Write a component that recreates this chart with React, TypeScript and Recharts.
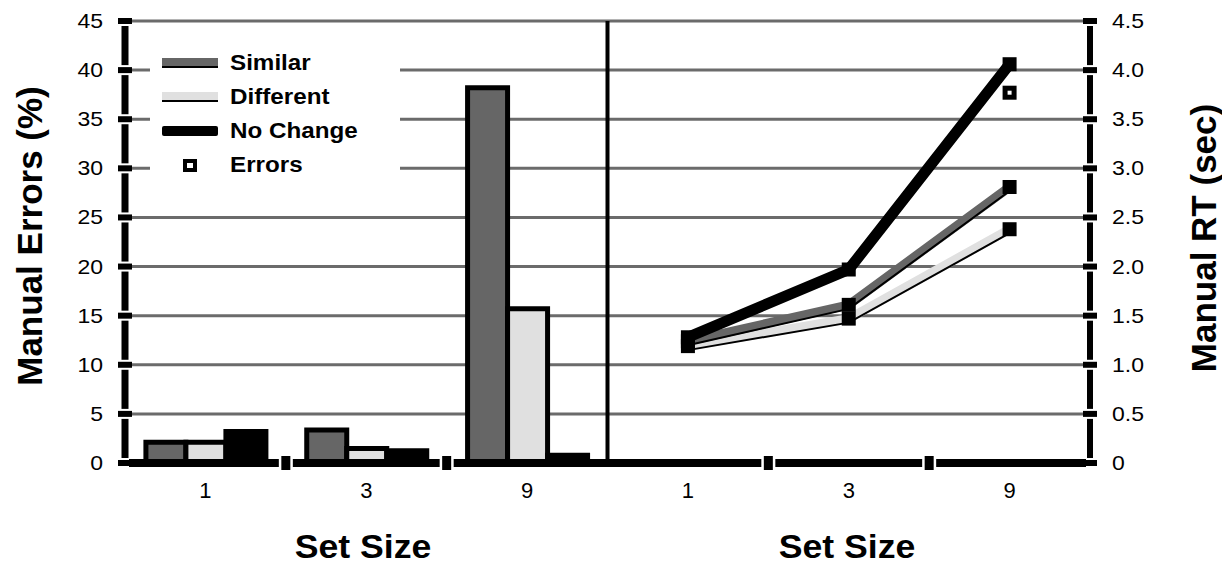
import { ComposedChart, Bar, Line, XAxis, YAxis, CartesianGrid, ReferenceLine, Legend } from 'recharts';

const SET_SIZES = ['1', '3', '9'];

// manual errors (%), left panel bars
const ERR_SIMILAR = [2.1, 3.35, 38.2];
const ERR_DIFFERENT = [2.1, 1.48, 15.7];
const ERR_NO_CHANGE = [3.2, 1.24, 0.8];

// manual RT (sec), right panel lines
const RT_SIMILAR = [1.24, 1.61, 2.81];
const RT_DIFFERENT = [1.19, 1.47, 2.38];
const RT_NO_CHANGE = [1.28, 1.97, 4.06];
const RT_ERRORS = [null, null, 3.77];

const ERR_TICKS = [0, 5, 10, 15, 20, 25, 30, 35, 40, 45];
const RT_TICKS = [0, 0.5, 1, 1.5, 2, 2.5, 3, 3.5, 4, 4.5];

const FONT = '"Liberation Sans", Arial, Helvetica, sans-serif';
const GRID = '#6b6b6b';
const DARK = '#666666';
const LIGHT = '#e0e0e0';

const data = [
  ...SET_SIZES.map((s, i) => ({
    key: 'e' + s,
    similar: ERR_SIMILAR[i],
    different: ERR_DIFFERENT[i],
    noChange: ERR_NO_CHANGE[i],
  })),
  ...SET_SIZES.map((s, i) => ({
    key: 'r' + s,
    rtSimilar: RT_SIMILAR[i],
    rtDifferent: RT_DIFFERENT[i],
    rtNoChange: RT_NO_CHANGE[i],
    rtErrors: RT_ERRORS[i],
  })),
];

function LeftTick(props: any) {
  const { x, y, payload } = props;
  return (
    <g>
      <rect x={x - 4} y={y - 5} width={8} height={10} fill="#fff" />
      <rect x={x - 7} y={y - 3} width={14} height={6} fill="#000" />
      <text transform={`translate(${x - 22},${y}) scale(1.15,1)`} textAnchor="end" dominantBaseline="central"
        fontSize={20} fontFamily={FONT} fill="#000">{payload.value}</text>
    </g>
  );
}

function RightTick(props: any) {
  const { x, y, payload } = props;
  const label = payload.value === 0 ? '0' : Number(payload.value).toFixed(1);
  return (
    <g>
      <rect x={x - 4} y={y - 5} width={8} height={10} fill="#fff" />
      <rect x={x - 7} y={y - 3} width={14} height={6} fill="#000" />
      <text transform={`translate(${x + 22},${y}) scale(1.15,1)`} textAnchor="start" dominantBaseline="central"
        fontSize={20} fontFamily={FONT} fill="#000">{label}</text>
    </g>
  );
}

// category label plus the little block at the right edge of each band
function CatTick(props: any) {
  const { x, y, payload, index } = props;
  const half = payload.offset ?? 0;
  const edge = x + half;
  const showBox = index !== 2 && index !== 5;
  return (
    <g>
      {showBox && <rect x={edge - 7} y={y - 5} width={14} height={10} fill="#fff" />}
      {showBox && <rect x={edge - 4.5} y={y - 7} width={9} height={14} fill="#000" />}
      <text x={x} y={y + 35} textAnchor="middle" fontSize={22} fontFamily={FONT} fill="#000">
        {String(payload.value).slice(1)}
      </text>
    </g>
  );
}

function squareDot(props: any) {
  const { cx, cy, index } = props;
  if (cx == null || cy == null) return <g key={index} />;
  return <rect key={index} x={cx - 7} y={cy - 7} width={14} height={14} fill="#000" />;
}

function hollowDot(props: any) {
  const { cx, cy, index } = props;
  if (cx == null || cy == null) return <g key={index} />;
  return (
    <g key={index}>
      <rect x={cx - 7} y={cy - 7} width={14} height={14} fill="#000" />
      <rect x={cx - 2} y={cy - 2} width={4} height={4} fill="#fff" />
    </g>
  );
}

function LegendBox() {
  const row = (top: number, swatch: any, label: string) => (
    <div style={{ position: 'absolute', left: 0, top, height: 34, width: 250 }}>
      <div style={{ position: 'absolute', left: 12, top: 0, width: 56, height: 34, display: 'flex', alignItems: 'center', justifyContent: 'center' }}>
        {swatch}
      </div>
      <div style={{
        position: 'absolute', left: 80, top: 0, lineHeight: '34px', fontSize: 22, fontWeight: 700,
        fontFamily: FONT, color: '#000', transform: 'scaleX(1.1)', transformOrigin: 'left center', whiteSpace: 'nowrap',
      }}>{label}</div>
    </div>
  );
  return (
    <div style={{ position: 'relative', width: 250, height: 150, background: '#fff' }}>
      {row(8, <div style={{ width: 56, height: 8, background: DARK, borderBottom: '2px solid #000' }} />, 'Similar')}
      {row(42, <div style={{ width: 56, height: 8, background: LIGHT, borderBottom: '2px solid #000' }} />, 'Different')}
      {row(76, <div style={{ width: 56, height: 10, background: '#000', borderRadius: 2 }} />, 'No Change')}
      {row(110, <div style={{ width: 6, height: 5, border: '4px solid #000', background: '#fff' }} />, 'Errors')}
    </div>
  );
}

const titleStyle: any = {
  position: 'absolute', fontFamily: FONT, fontWeight: 700, color: '#000', whiteSpace: 'nowrap', lineHeight: 1,
};

export default function App() {
  return (
    <div style={{ position: 'absolute', left: 0, top: 0, width: 1222, height: 564, background: '#fff' }}>
      <style>{'.rt-edge { transform: translateY(4px); }'}</style>
      <ComposedChart width={1222} height={564} data={data} barGap={0} barCategoryGap="13%"
        margin={{ top: 21, right: 0, bottom: 0, left: 0 }}>
        <CartesianGrid xAxisId="cat" yAxisId="left" vertical={false} stroke={GRID} strokeWidth={3} />
        <XAxis xAxisId="cat" dataKey="key" height={101} axisLine={{ stroke: '#000', strokeWidth: 8 }} tickLine={false}
          tickSize={0} tickMargin={0} tick={<CatTick />} interval={0} />
        <YAxis yAxisId="left" width={125} domain={[0, 45]} ticks={ERR_TICKS} allowDataOverflow
          axisLine={{ stroke: '#000', strokeWidth: 7 }} tickLine={false} tickSize={0} tickMargin={0} tick={<LeftTick />} />
        <YAxis yAxisId="right" orientation="right" width={132} domain={[0, 4.5]} ticks={RT_TICKS} allowDataOverflow
          axisLine={{ stroke: '#000', strokeWidth: 6 }} tickLine={false} tickSize={0} tickMargin={0} tick={<RightTick />} />
        <ReferenceLine xAxisId="cat" yAxisId="left" x="r1" position="start" stroke="#000" strokeWidth={4} />

        <Bar xAxisId="cat" yAxisId="left" dataKey="similar" fill={DARK} stroke="#000" strokeWidth={5} isAnimationActive={false} />
        <Bar xAxisId="cat" yAxisId="left" dataKey="different" fill={LIGHT} stroke="#000" strokeWidth={5} isAnimationActive={false} />
        <Bar xAxisId="cat" yAxisId="left" dataKey="noChange" fill="#000" stroke="#000" strokeWidth={5} isAnimationActive={false} />

        <Line xAxisId="cat" yAxisId="right" dataKey="rtDifferent" stroke={LIGHT} strokeWidth={9} dot={false} isAnimationActive={false} />
        <Line xAxisId="cat" yAxisId="right" dataKey="rtDifferent" className="rt-edge" stroke="#000" strokeWidth={2} dot={false} isAnimationActive={false} />
        <Line xAxisId="cat" yAxisId="right" dataKey="rtSimilar" stroke={DARK} strokeWidth={9} dot={false} isAnimationActive={false} />
        <Line xAxisId="cat" yAxisId="right" dataKey="rtSimilar" className="rt-edge" stroke="#000" strokeWidth={2} dot={false} isAnimationActive={false} />
        <Line xAxisId="cat" yAxisId="right" dataKey="rtNoChange" stroke="#000" strokeWidth={11} strokeLinejoin="miter" dot={false} isAnimationActive={false} />
        <Line xAxisId="cat" yAxisId="right" dataKey="rtDifferent" stroke="none" dot={squareDot} activeDot={false} isAnimationActive={false} />
        <Line xAxisId="cat" yAxisId="right" dataKey="rtSimilar" stroke="none" dot={squareDot} activeDot={false} isAnimationActive={false} />
        <Line xAxisId="cat" yAxisId="right" dataKey="rtNoChange" stroke="none" dot={squareDot} activeDot={false} isAnimationActive={false} />
        <Line xAxisId="cat" yAxisId="right" dataKey="rtErrors" stroke="none" dot={hollowDot} activeDot={false} isAnimationActive={false} />

        <Legend layout="vertical" align="center" verticalAlign="middle" content={() => <LegendBox />}
          wrapperStyle={{ position: 'absolute', left: 150, top: 38, width: 250, height: 150 }} />
      </ComposedChart>

      <div style={{ ...titleStyle, fontSize: 35, left: 29, top: 236, transform: 'translate(-50%, -50%) rotate(-90deg)' }}>Manual Errors (%)</div>
      <div style={{ ...titleStyle, fontSize: 35, left: 1203, top: 238, transform: 'translate(-50%, -50%) rotate(-90deg)' }}>Manual RT (sec)</div>
      <div style={{ ...titleStyle, fontSize: 33, left: 363, top: 530, transform: 'translateX(-50%) scaleX(1.08)' }}>Set Size</div>
      <div style={{ ...titleStyle, fontSize: 33, left: 847, top: 530, transform: 'translateX(-50%) scaleX(1.08)' }}>Set Size</div>
    </div>
  );
}
